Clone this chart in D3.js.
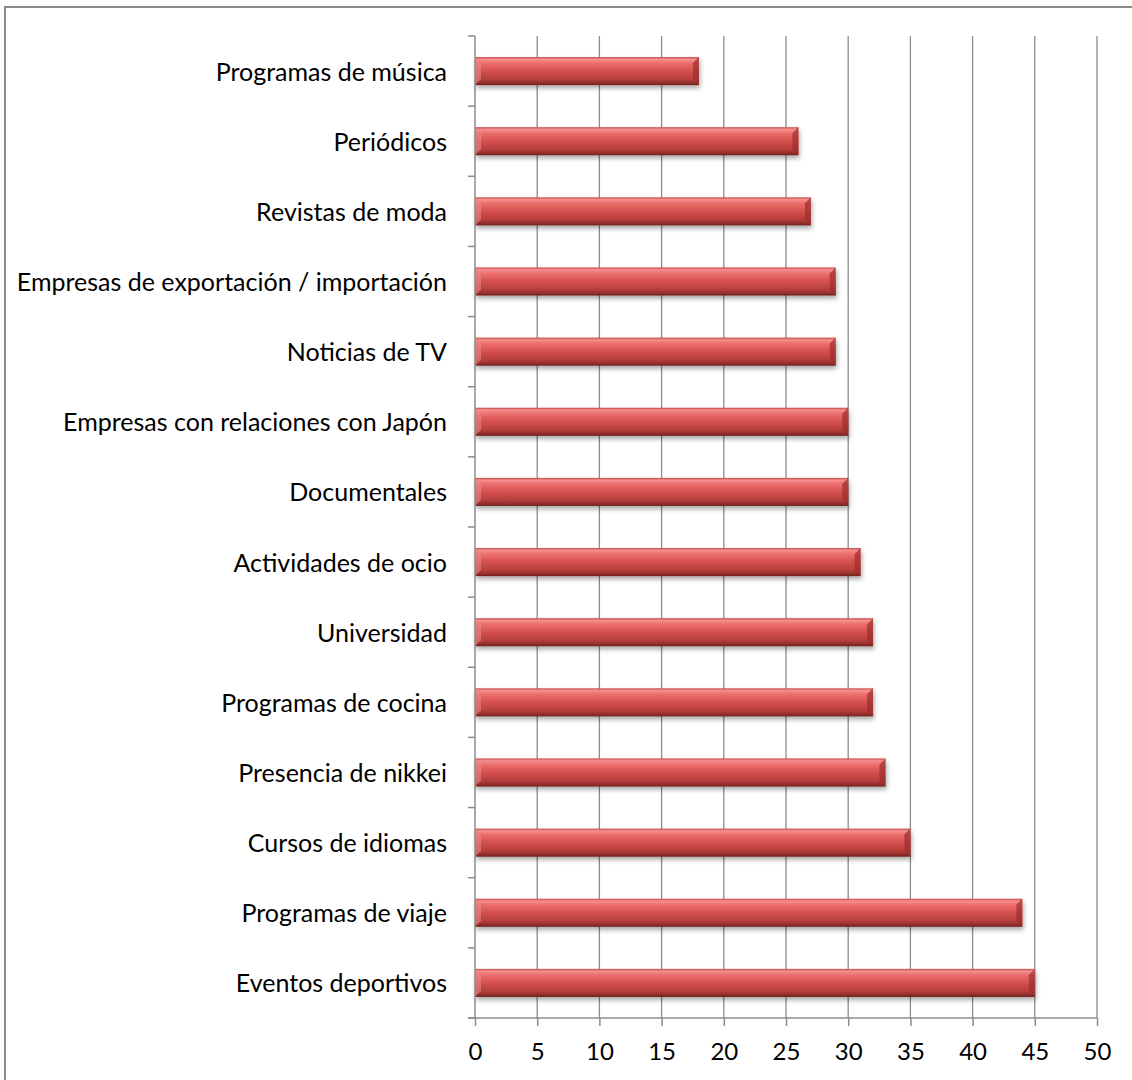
<!DOCTYPE html>
<html><head><meta charset="utf-8">
<script src="https://cdn.jsdelivr.net/npm/d3@7"></script>
<style>body{margin:0;background:#fff}svg text{font-family:Lato,"Open Sans",sans-serif;fill:#000}</style>
</head><body>
<svg id="c" width="1132" height="1080"></svg>
<script>
const categories = ["Programas de música","Periódicos","Revistas de moda","Empresas de exportación / importación","Noticias de TV","Empresas con relaciones con Japón","Documentales ","Actividades de ocio","Universidad","Programas de cocina","Presencia de nikkei","Cursos de idiomas","Programas de viaje","Eventos deportivos"];
const values = [18,26,27,29,29,30,30,31,32,32,33,35,44,45];
const xTicks = [0,5,10,15,20,25,30,35,40,45,50];

const svg = d3.select("#c");
svg.append("rect").attr("x",5).attr("y",7).attr("width",1140).attr("height",1090)
  .attr("fill","none").attr("stroke","#8a8a8a").attr("stroke-width",2);

const L=475,R=1097,T=36,B=1018;
const x = d3.scaleLinear().domain([0,50]).range([L,R]);
const y = d3.scaleBand().domain(categories).range([T,B]).paddingInner(0.6).paddingOuter(0.3);
const yb = d3.scaleLinear().domain([0,categories.length]).range([T,B]);

const defs = svg.append("defs");
const g = defs.append("linearGradient").attr("id","bar").attr("x1",0).attr("y1",0).attr("x2",0).attr("y2",1);
[[0,"#c84a48"],[0.08,"#f4908e"],[0.22,"#ec6e6c"],[0.5,"#d4504d"],[0.8,"#b43e3b"],[0.93,"#902d2b"],[1,"#6e1e1c"]]
  .forEach(([o,c])=>g.append("stop").attr("offset",o).attr("stop-color",c));
const f = defs.append("filter").attr("id","sh").attr("x","-5%").attr("y","-30%").attr("width","110%").attr("height","180%");
f.append("feGaussianBlur").attr("in","SourceAlpha").attr("stdDeviation",2.5);
f.append("feOffset").attr("dx",1).attr("dy",3).attr("result","b");
f.append("feComponentTransfer").append("feFuncA").attr("type","linear").attr("slope",0.35);
const m=f.append("feMerge"); m.append("feMergeNode"); m.append("feMergeNode").attr("in","SourceGraphic");

// gridlines
svg.append("g").selectAll("line").data(xTicks.slice(1)).join("line")
  .attr("x1",d=>x(d)).attr("x2",d=>x(d)).attr("y1",T).attr("y2",B)
  .attr("stroke","#8c8c8c").attr("stroke-width",1.3);

// bars
const bars = svg.append("g").selectAll("g").data(categories).join("g").attr("filter","url(#sh)");
bars.append("rect").attr("x",x(0)).attr("y",d=>y(d)).attr("width",(d,i)=>x(values[i])-x(0)).attr("height",y.bandwidth())
  .attr("fill","url(#bar)");
bars.append("path").attr("d",(d,i)=>{const x1=x(values[i]),y0=y(d),h=y.bandwidth(),b=6;
  return `M${x1-b},${y0+b}L${x1},${y0}L${x1},${y0+h}L${x1-b},${y0+h-b}Z`;}).attr("fill","#9c2e2c").attr("opacity",0.7);
bars.append("path").attr("d",(d,i)=>{const x0=x(0),y0=y(d),h=y.bandwidth(),b=6;
  return `M${x0},${y0}L${x0+b},${y0+b}L${x0+b},${y0+h-b}L${x0},${y0+h}Z`;}).attr("fill","#e88886").attr("opacity",0.6);

// left axis
svg.append("line").attr("x1",L).attr("x2",L).attr("y1",T).attr("y2",B).attr("stroke","#8c8c8c").attr("stroke-width",1.5);
svg.append("g").selectAll("line").data(d3.range(categories.length+1)).join("line")
  .attr("x1",L-7).attr("x2",L).attr("y1",d=>yb(d)).attr("y2",d=>yb(d)).attr("stroke","#8c8c8c").attr("stroke-width",1.5);
svg.append("g").selectAll("text").data(categories).join("text")
  .attr("x",L-28).attr("y",d=>y(d)+y.bandwidth()/2).attr("dy","0.38em").attr("text-anchor","end")
  .attr("font-size",25).text(d=>d);

// bottom axis
const xa = d3.axisBottom(x).tickValues(xTicks).tickSize(8).tickPadding(17).tickSizeOuter(0);
const ga = svg.append("g").attr("transform",`translate(0,${B})`).call(xa);
ga.select(".domain").attr("stroke","#8c8c8c").attr("stroke-width",1.5).attr("d",`M${L-7},0H${R}`);
ga.selectAll(".tick line").attr("stroke","#8c8c8c").attr("stroke-width",1.5);
ga.selectAll(".tick text").attr("font-size",24).attr("font-family",null).style("font-family",'Lato,"Open Sans",sans-serif').attr("fill","#000");
</script>
</body></html>
